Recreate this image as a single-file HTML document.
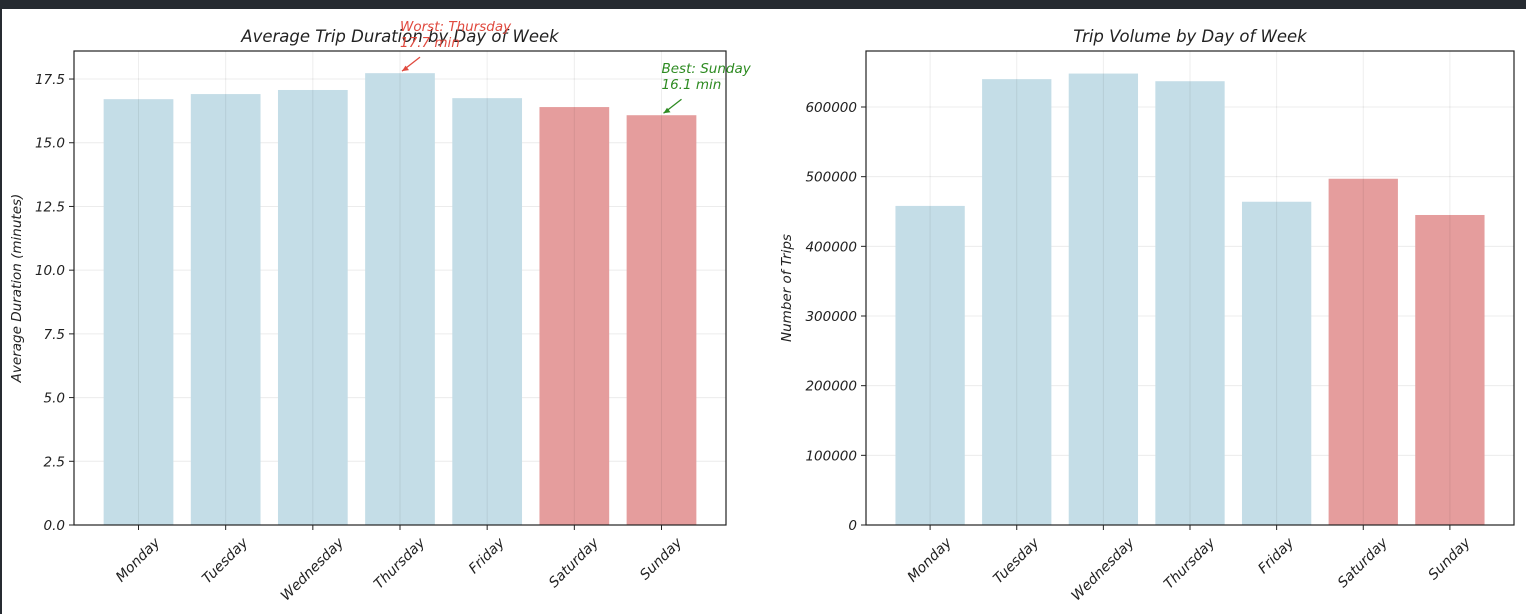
<!DOCTYPE html>
<html><head><meta charset="utf-8"><style>
html,body{margin:0;padding:0;background:#fff;}
svg{display:block;font-family:"DejaVu Sans","Liberation Sans",sans-serif;font-style:italic;}
</style></head><body>
<svg id="s" width="1526" height="614" viewBox="0 0 1526 614">
<rect x="0" y="0" width="1526" height="9" fill="#262b31"/>
<rect x="0" y="0" width="2" height="614" fill="#262b31"/>
</svg>
<script>
const days=["Monday","Tuesday","Wednesday","Thursday","Friday","Saturday","Sunday"];
const durations=[16.71,16.91,17.07,17.73,16.75,16.40,16.08];
const trips=[458000,640000,648000,637000,464000,497000,445000];
const durTicks=[0,2.5,5,7.5,10,12.5,15,17.5];
const tripTicks=[0,100000,200000,300000,400000,500000,600000];
const weekend=[false,false,false,false,false,true,true];
const NS="http://www.w3.org/2000/svg";
const svg=document.getElementById('s');
function el(t,a,p){const e=document.createElementNS(NS,t);for(const k in a)e.setAttribute(k,a[k]);(p||svg).appendChild(e);return e;}
function chart(o){
  const g=el('g',{});
  
  
  const L=o.x0,R=o.x1,T=51,B=525;
  const y=v=>B-v/o.ymax*(B-T);
  const n=days.length;
  const lo=-0.4-0.05*(n-0.2), hi=n-1+0.4+0.05*(n-0.2);
  const sx=(R-L)/(hi-lo);
  const xc=i=>L+(i-lo)*sx;
  const bw=0.8*sx;
  o.ticks.forEach(t=>{const l=el('line',{x1:L,x2:R,y1:y(t),y2:y(t),stroke:'#ececec','stroke-width':1},g);});
  o.vals.forEach((v,i)=>{const r=el('rect',{x:xc(i)-bw/2,y:y(v),width:bw,height:B-y(v),fill:weekend[i]?'#e59d9d':'#c4dde7'},g);});
  days.forEach((d,i)=>{const l=el('line',{x1:xc(i),x2:xc(i),y1:T,y2:B,stroke:'#000','stroke-opacity':0.07,'stroke-width':1},g);});
  el('rect',{x:L,y:T,width:R-L,height:B-T,fill:'none',stroke:'#222','stroke-width':1.2},g);
  o.ticks.forEach((t,i)=>{el('line',{x1:L-5,x2:L,y1:y(t),y2:y(t),stroke:'#222'},g);
    const tx=el('text',{x:L-9,y:y(t)+5,'text-anchor':'end','font-size':13.5,fill:'#222'},g);tx.textContent=o.labels[i];
    });
  days.forEach((d,i)=>{el('line',{x1:xc(i),x2:xc(i),y1:B,y2:B+5,stroke:'#222'},g);
    const tx=el('text',{x:0,y:5,'text-anchor':'middle','font-size':14,fill:'#222'},g);tx.textContent=d;
    
    const w=tx.getComputedTextLength();
    const h=(w+14)*Math.SQRT1_2;
    tx.setAttribute('transform',`translate(${xc(i)-1},${B+10+h/2}) rotate(-45)`);});
  const ti=el('text',{x:(L+R)/2,y:42,'text-anchor':'middle','font-size':16.5,fill:'#222'},g);ti.textContent=o.title;
  
  const yl=el('text',{x:0,y:0,'text-anchor':'middle','font-size':13.5,fill:'#222',transform:`translate(${o.ylx},${(T+B)/2}) rotate(-90)`},g);yl.textContent=o.ylabel;
  
  return {xc,y,g};
}
const c1=chart({name:'duration-chart',x0:74,x1:726,ymax:18.6,ticks:durTicks,labels:durTicks.map(t=>t.toFixed(1)),vals:durations,title:'Average Trip Duration by Day of Week',ylabel:'Average Duration (minutes)',ylx:21});
const c2=chart({name:'volume-chart',x0:866,x1:1514,ymax:(525-51)/418*600000,ticks:tripTicks,labels:tripTicks.map(String),vals:trips,title:'Trip Volume by Day of Week',ylabel:'Number of Trips',ylx:791});
let wi=durations.indexOf(Math.max(...durations)), bi=durations.indexOf(Math.min(...durations));
function ann(c,i,col,l1,l2,name){
  const bx=c.xc(i),by=c.y(durations[i]);
  const g=el('g',{fill:col,'font-size':13.5},c.g);
  
  el('line',{x1:bx+20,y1:by-16,x2:bx+2,y2:by-2,stroke:col,'stroke-width':1.3},g);
  el('path',{d:`M${bx+2},${by-2} l7,-1 l-3.5,-4.5 z`,fill:col},g);
  const a=el('text',{x:bx,y:by-42},g);a.textContent=l1;
  const b=el('text',{x:bx,y:by-26},g);b.textContent=l2;
}
ann(c1,wi,'#e04a3f','Worst: '+days[wi],durations[wi].toFixed(1)+' min','worst-annotation');
ann(c1,bi,'#2e8b22','Best: '+days[bi],durations[bi].toFixed(1)+' min','best-annotation');
</script>
</body></html>
